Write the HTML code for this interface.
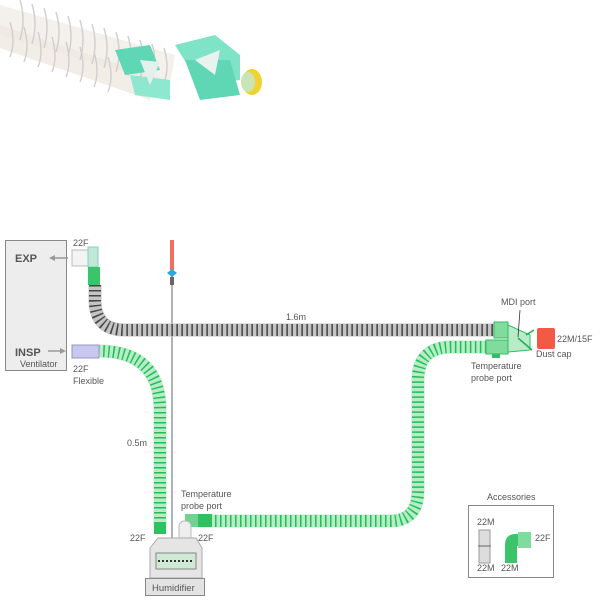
<!DOCTYPE html>
<html><head><meta charset="utf-8"><style>
html,body{margin:0;padding:0;background:#fff;}
svg{display:block;}
text{font-family:"Liberation Sans",sans-serif;fill:#555;}
</style></head><body>
<svg width="600" height="600" viewBox="0 0 600 600" xmlns="http://www.w3.org/2000/svg">

<!-- photo -->
<g>
<path d="M0 5 L175 55 L170 85 L0 35 Z" fill="#f3eee9" opacity="0.9"/>
<path d="M0 25 L160 78 L150 100 L0 48 Z" fill="#efe8e1" opacity="0.8"/>
<g stroke="#cfcfcf" stroke-width="1.4" fill="none">
<path d="M20 0 q6 20 0 40 M32 4 q6 20 0 40 M44 8 q6 20 0 40 M56 12 q6 20 0 40 M68 16 q6 20 0 40 M80 20 q6 20 0 40 M92 24 q6 20 0 40 M104 28 q6 20 0 40 M116 32 q6 20 0 40 M128 36 q6 20 0 40 M140 40 q6 20 0 38 M152 44 q6 20 0 36 M164 48 q6 20 0 34"/>
<path d="M10 22 q6 20 0 35 M24 27 q6 20 0 35 M38 32 q6 20 0 35 M52 37 q6 20 0 35 M66 42 q6 20 0 35 M80 47 q6 20 0 35 M94 52 q6 20 0 35 M108 57 q6 20 0 35"/>
</g>
<path d="M115 50 L150 45 L160 70 L125 75 Z" fill="#5fd7b5"/>
<path d="M175 45 L215 35 L240 55 L240 80 L200 85 Z" fill="#7fe3c8"/>
<path d="M185 60 L230 60 L240 95 L200 100 Z" fill="#5fd7b5"/>
<path d="M130 75 L170 80 L170 100 L135 95 Z" fill="#8ee8cf"/>
<path d="M140 60 L160 62 L150 85 Z" fill="#e4f0ec"/>
<path d="M195 60 L220 50 L215 75 Z" fill="#e8f2ef"/>
<ellipse cx="252" cy="82" rx="10" ry="13" fill="#f2d22e"/>
<ellipse cx="248" cy="82" rx="7" ry="10" fill="#c9e5b5"/>
</g>

<!-- ventilator -->
<rect x="5.5" y="240.5" width="61" height="130" fill="#ededed" stroke="#888"/>
<text x="15" y="262" font-size="11" font-weight="bold" fill="#555">EXP</text>
<text x="15" y="356" font-size="11" font-weight="bold" fill="#555">INSP</text>
<text x="20" y="367" font-size="9">Ventilator</text>
<line x1="68" y1="258" x2="52" y2="258" stroke="#999" stroke-width="1.5"/>
<path d="M49 258 l6 -3 v6 z" fill="#999"/>
<line x1="48" y1="351" x2="62" y2="351" stroke="#999" stroke-width="1.5"/>
<path d="M66 351 l-6 -3 v6 z" fill="#999"/>
<text x="73" y="246" font-size="9">22F</text>
<text x="73" y="372" font-size="9">22F</text>
<text x="73" y="384" font-size="9">Flexible</text>

<!-- probe line -->
<line x1="172" y1="270" x2="172" y2="548" stroke="#999" stroke-width="2"/>
<line x1="172" y1="270" x2="172" y2="548" stroke="#eee" stroke-width="0.6"/>
<rect x="170" y="240" width="4" height="30" fill="#f07060"/>
<path d="M167 273 l5 -4 5 4 -5 4z" fill="#2aa8e0"/>
<rect x="170" y="277" width="4" height="8" fill="#666"/>

<!-- grey exp tube -->
<path d="M95 285 L95 300 Q95 330 125 330 L495 330" fill="none" stroke="#c4c4c4" stroke-width="13"/>
<path d="M95 285 L95 300 Q95 330 125 330 L495 330" fill="none" stroke="#444" stroke-width="12" stroke-dasharray="1.5 3.5"/>
<rect x="72" y="250" width="22" height="16" fill="#f4f4f4" stroke="#bbb"/>
<rect x="88" y="247" width="10" height="20" fill="#bfe8d5" stroke="#8cc"/>
<rect x="88" y="267" width="12" height="18" fill="#3cc46a"/>
<text x="286" y="320" font-size="9">1.6m</text>

<!-- green insp tube -->
<path d="M98 351 Q160 351 160 410 L160 525" fill="none" stroke="#b8ebc8" stroke-width="13"/>
<path d="M98 351 Q160 351 160 410 L160 525" fill="none" stroke="#1fbf55" stroke-width="12" stroke-dasharray="1.5 3.5"/>
<rect x="72" y="345" width="27" height="13" fill="#c8c8f0" stroke="#99b"/>
<text x="127" y="446" font-size="9">0.5m</text>
<rect x="154" y="522" width="12" height="12" fill="#2fc060"/>
<text x="130" y="541" font-size="9">22F</text>

<!-- long green tube -->
<path d="M200 521 L390 521 Q418 521 418 490 L418 380 Q418 347 452 347 L490 347" fill="none" stroke="#b8ebc8" stroke-width="13"/>
<path d="M200 521 L390 521 Q418 521 418 490 L418 380 Q418 347 452 347 L490 347" fill="none" stroke="#1fbf55" stroke-width="12" stroke-dasharray="1.5 3.5"/>
<rect x="185" y="514" width="15" height="13" fill="#6fd38f"/>
<rect x="198" y="514" width="14" height="13" fill="#2fc060"/>
<text x="181" y="497" font-size="9">Temperature</text>
<text x="181" y="509" font-size="9">probe port</text>
<text x="198" y="541" font-size="9">22F</text>
<rect x="179" y="521" width="12" height="22" rx="5" fill="#eee" stroke="#bbb"/>

<!-- humidifier -->
<path d="M150 548 L158 538 L196 538 L202 548 L202 578 L150 578 Z" fill="#e5e5e5" stroke="#aaa"/>
<rect x="156" y="553" width="40" height="16" fill="#cfe9d5" stroke="#888"/>
<line x1="158" y1="561" x2="194" y2="561" stroke="#333" stroke-width="2" stroke-dasharray="2 2"/>
<rect x="145.5" y="578.5" width="59" height="17" fill="#e3e3e3" stroke="#888"/>
<text x="152" y="591" font-size="9.5">Humidifier</text>

<!-- right connector -->
<rect x="494" y="322" width="14" height="16" fill="#7fdc9c" stroke="#3b6"/>
<rect x="486" y="340" width="22" height="14" fill="#7fdc9c" stroke="#3b6"/>
<path d="M508 325 L530 335 L530 350 L508 352 Z" fill="#b8ecc8" stroke="#3b6"/>
<path d="M518 338 L532 350 M526 335 L534 330" stroke="#2a5" stroke-width="1.5"/>
<line x1="520" y1="310" x2="518" y2="337" stroke="#333" stroke-width="0.8"/>
<rect x="492" y="354" width="8" height="4" fill="#3b6"/>
<rect x="537" y="328" width="18" height="21" rx="2" fill="#f25a45"/>
<text x="501" y="305" font-size="9">MDI port</text>
<text x="557" y="342" font-size="9">22M/15F</text>
<text x="536" y="357" font-size="9">Dust cap</text>
<text x="471" y="369" font-size="9">Temperature</text>
<text x="471" y="381" font-size="9">probe port</text>

<!-- accessories -->
<text x="487" y="500" font-size="9">Accessories</text>
<rect x="468.5" y="505.5" width="85" height="72" fill="#fff" stroke="#888"/>
<text x="477" y="525" font-size="9">22M</text>
<rect x="479" y="530" width="11" height="33" fill="#ddd" stroke="#999"/>
<line x1="478" y1="546" x2="491" y2="546" stroke="#666"/>
<text x="477" y="571" font-size="9">22M</text>
<text x="501" y="571" font-size="9">22M</text>
<path d="M505 545 L505 563 L517 563 L517 545 Z" fill="#3cc46a"/>
<path d="M505 545 Q505 534 516 534 L530 534 L530 546 L517 546 Z" fill="#3cc46a"/>
<rect x="518" y="532" width="13" height="16" fill="#7fdc9c"/>
<text x="535" y="541" font-size="9">22F</text>
</svg>
</body></html>
